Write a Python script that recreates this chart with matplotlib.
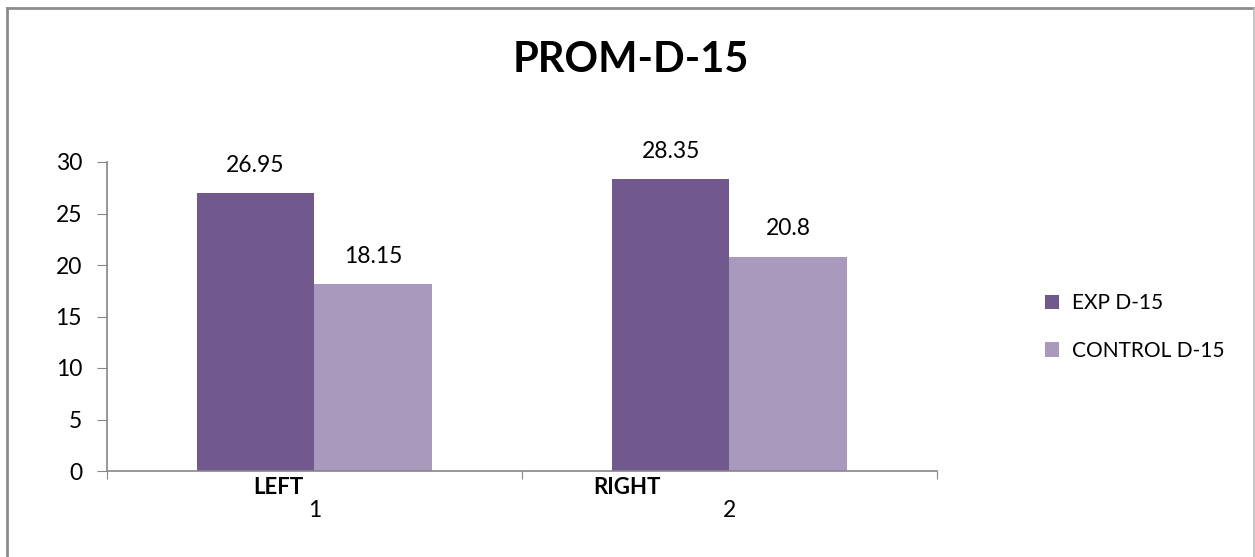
import matplotlib.pyplot as plt
from matplotlib.lines import Line2D
import matplotlib.transforms as mtransforms

plt.rcParams['font.family'] = ['Lato', 'DejaVu Sans']

# datos
grupos = [1, 2]
lados = ['LEFT', 'RIGHT']
exp_d15 = [26.95, 28.35]
control_d15 = [18.15, 20.8]
series = ['EXP D-15', 'CONTROL D-15']
colores = ['#72598D', '#A99ABD']

fig = plt.figure(figsize=(12.55, 5.57), dpi=100)
ax = fig.add_axes([107/1255, 1-471/557, 830/1255, 309/557])

ancho = 0.284
x_exp = [g - ancho/2 for g in grupos]
x_ctl = [g + ancho/2 for g in grupos]
b1 = ax.bar(x_exp, exp_d15, ancho, color=colores[0], label=series[0])
b2 = ax.bar(x_ctl, control_d15, ancho, color=colores[1], label=series[1])
for barras, vals in ((b1, exp_d15), (b2, control_d15)):
    for b, v in zip(barras, vals):
        ax.annotate(f'{v:g}', (b.get_x() + b.get_width()/2, v),
                    xytext=(0, 20), textcoords='offset points',
                    ha='center', va='center', fontsize=16.5)

ax.set_xlim(0.5, 2.5)
ax.set_ylim(0, 30)
ax.set_yticks(range(0, 31, 5))
ax.tick_params(axis='y', labelsize=16.5, length=7, color='#868686', pad=11)
ax.set_xticks([0.5, 1.5, 2.5])
ax.set_xticklabels([])
ax.tick_params(axis='x', length=6, color='#868686')
ax.set_xticks(grupos, minor=True)
ax.set_xticklabels([str(g) for g in grupos], minor=True, fontsize=16.5)
ax.tick_params(axis='x', which='minor', length=0, pad=21)

trans = mtransforms.blended_transform_factory(ax.transData, ax.transAxes)
for xc, txt in zip([0.912, 1.753], lados):
    ax.text(xc, -0.052, txt, transform=trans, ha='center', va='center',
            fontsize=16, fontweight='bold')

for s in ['top', 'right']:
    ax.spines[s].set_visible(False)
for s in ['left', 'bottom']:
    ax.spines[s].set_color('#868686')
    ax.spines[s].set_linewidth(1.2)

fig.text(631/1255, 1-60/557, 'PROM-D-15', ha='center', va='center',
         fontsize=30, fontweight='bold')

ax.legend(loc='center left', bbox_to_anchor=(1028/1255, 1-327/557),
          bbox_transform=fig.transFigure, frameon=False, fontsize=15,
          borderpad=0.3, handlelength=0.7, handleheight=0.7,
          handletextpad=0.6, labelspacing=1.3)

# marco exterior
borde = dict(color='#8C8C8C', linewidth=2, transform=fig.transFigure)
fig.add_artist(Line2D([7/1255, 7/1255], [0, 1-8/557], **borde))
fig.add_artist(Line2D([7/1255, 1254/1255], [1-8/557, 1-8/557], **borde))
fig.add_artist(Line2D([1254/1255, 1254/1255], [0, 1-8/557], color='#BBBBBB',
                      linewidth=1.2, transform=fig.transFigure))

fig.savefig('out.png', dpi=100)
